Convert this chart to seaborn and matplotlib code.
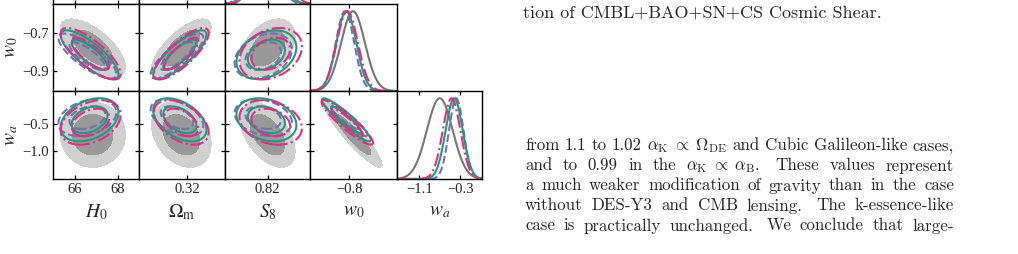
import numpy as np
import matplotlib
matplotlib.use("Agg")
import matplotlib.pyplot as plt
import seaborn as sns

# parameters in order: H0, Omega_m, S8, w0, wa
PARAM_LABELS = [r"$H_0$", r"$\Omega_{\rm m}$", r"$S_8$", r"$w_0$", r"$w_a$"]
RANGES = [(65.0, 69.0), (0.2865, 0.3465), (0.78, 0.86), (-1.005, -0.55), (-1.53, 0.12)]
XTICKS = [[66, 68], [0.32], [0.82], [-0.8], [-1.1, -0.3]]
XTICKLABELS = [["66", "68"], ["0.32"], ["0.82"], ["\u22120.8"], ["\u22121.1", "\u22120.3"]]
YTICKS = {3: [-0.7, -0.9], 4: [-0.5, -1.0]}
YTICKLABELS = {3: ["\u22120.7", "\u22120.9"], 4: ["\u22120.5", "\u22121.0"]}

# marginal means / widths
MEAN_GREY = [66.85, 0.316, 0.820, -0.780, -0.70]
SIG_GREY = [0.62, 0.0085, 0.0106, 0.062, 0.25]
MEAN_GREEN = [66.70, 0.315, 0.819, -0.815, -0.42]
SIG_GREEN = [0.55, 0.0076, 0.0115, 0.052, 0.165]
MEAN_PINK = [66.75, 0.316, 0.823, -0.810, -0.47]
SIG_PINK = [0.57, 0.0078, 0.0120, 0.055, 0.17]
MEAN_PURPLE = [66.60, 0.313, 0.816, -0.822, -0.38]
SIG_PURPLE = [0.55, 0.0075, 0.0110, 0.048, 0.14]

# 2D panels (x param, y param) and correlation per chain
PANELS = [(0, 3), (1, 3), (2, 3), (0, 4), (1, 4), (2, 4), (3, 4)]
RHO_GREY = [-0.65, 0.72, 0.40, 0.00, -0.30, -0.50, -0.92]
RHO_GREEN = [-0.80, 0.82, 0.30, 0.35, -0.45, -0.25, -0.93]
RHO_PINK = [-0.78, 0.80, 0.28, 0.35, -0.45, -0.25, -0.92]
RHO_PURPLE = [-0.80, 0.82, 0.30, 0.30, -0.45, -0.25, -0.93]

CAPTION_TAIL = "tion of CMBL+BAO+SN+CS Cosmic Shear."
BODY_LINES = [
    ["from", "1.1", "to", "1.02", r"$\alpha_{\rm K}\;\propto\;\Omega_{\rm DE}$", "and",
     "Cubic", "Galileon-like", "cases,"],
    ["and", "to", "0.99", "in", "the", r"$\alpha_{\rm K}\;\propto\;\alpha_{\rm B}$.",
     "These", "values", "represent"],
    ["a", "much", "weaker", "modification", "of", "gravity", "than", "in", "the", "case"],
    ["without", "DES-Y3", "and", "CMB", "lensing.", "The", "k-essence-like"],
    ["case", "is", "practically", "unchanged.", "We", "conclude", "that", "large-"],
]

sns.set_theme(style="white")
plt.rcParams["font.family"] = ["Liberation Serif", "DejaVu Serif"]
plt.rcParams["mathtext.fontset"] = "stix"
plt.rcParams["axes.unicode_minus"] = True

W, H = 1018, 254
fig = plt.figure(figsize=(W / 100, H / 100), dpi=100)
fig.patch.set_facecolor("white")

COL_EDGES = [53, 139, 225, 310, 397, 482]
ROW_EDGES = [-83, 4, 91, 179]
ROW_PARAMS = [2, 3, 4]

GREY_LIGHT, GREY_DARK, GREY_LINE = "#d0d0d0", "#999999", "#767676"
chains = [
    (MEAN_PURPLE, SIG_PURPLE, RHO_PURPLE, "#7570b3", "--"),
    (MEAN_GREEN, SIG_GREEN, RHO_GREEN, "#1b9e77", "-"),
    (MEAN_PINK, SIG_PINK, RHO_PINK, "#e7298a", "-."),
]
LEVELS = [np.exp(-5.99 / 2), np.exp(-2.30 / 2)]


def gauss2d(X, Y, mx, my, sx, sy, rho):
    dx, dy = (X - mx) / sx, (Y - my) / sy
    q = (dx ** 2 - 2 * rho * dx * dy + dy ** 2) / (1 - rho ** 2)
    return np.exp(-q / 2)


for r, p in enumerate(ROW_PARAMS):
    for c in range(p + 1):
        x0, x1 = COL_EDGES[c], COL_EDGES[c + 1]
        y0, y1 = ROW_EDGES[r], ROW_EDGES[r + 1]
        ax = fig.add_axes([x0 / W, 1 - y1 / H, (x1 - x0) / W, (y1 - y0) / H])
        ax.set_facecolor("white")
        ax.set_xlim(*RANGES[c])
        if c == p:
            # 1D marginal
            xs = np.linspace(*RANGES[c], 300)
            ys = np.exp(-0.5 * ((xs - MEAN_GREY[c]) / SIG_GREY[c]) ** 2)
            sns.lineplot(x=xs, y=ys, ax=ax, color=GREY_LINE, lw=1.5)
            for mean, sig, _, col, ls in chains:
                ys = np.exp(-0.5 * ((xs - mean[c]) / sig[c]) ** 2)
                sns.lineplot(x=xs, y=ys, ax=ax, color=col, lw=1.5, linestyle=ls)
            ax.set_ylim(0, 1.09)
            ax.set_yticks([])
        else:
            ax.set_ylim(*RANGES[p])
            if (c, p) in PANELS:
                k = PANELS.index((c, p))
                gx = np.linspace(*RANGES[c], 220)
                gy = np.linspace(*RANGES[p], 220)
                X, Y = np.meshgrid(gx, gy)
                Z = gauss2d(X, Y, MEAN_GREY[c], MEAN_GREY[p], SIG_GREY[c], SIG_GREY[p], RHO_GREY[k])
                ax.contourf(X, Y, Z, levels=[LEVELS[0], LEVELS[1], 1.1],
                            colors=[GREY_LIGHT, GREY_DARK])
                for mean, sig, rho, col, ls in chains:
                    Z = gauss2d(X, Y, mean[c], mean[p], sig[c], sig[p], rho[k])
                    ax.contour(X, Y, Z, levels=LEVELS, colors=col,
                               linestyles=ls, linewidths=1.5)
            ax.set_yticks(YTICKS.get(p, []))
            if c == 0 and p in YTICKLABELS:
                ax.set_yticklabels(YTICKLABELS[p])
        ax.set_xticks(XTICKS[c])
        if r == len(ROW_PARAMS) - 1:
            ax.set_xticklabels(XTICKLABELS[c])
        ax.set(xlabel=None, ylabel=None)
        ax.tick_params(direction="in", length=3, width=0.9, color="black",
                       top=True, bottom=True, left=(c != p), right=(c != p),
                       labelbottom=(r == len(ROW_PARAMS) - 1),
                       labelleft=(c == 0 and c != p), labelsize=10.5, pad=3)
        for s in ax.spines.values():
            s.set_color("black")
            s.set_linewidth(1.0)
        if r == len(ROW_PARAMS) - 1:
            fig.text((x0 + x1) / 2 / W, 1 - 212 / H, PARAM_LABELS[c],
                     ha="center", va="center", fontsize=14)
    if p in YTICKS:
        fig.text(11 / W, 1 - (ROW_EDGES[r] + ROW_EDGES[r + 1]) / 2 / H, PARAM_LABELS[p],
                 ha="center", va="center", rotation=90, fontsize=14)

# text column on the right
TXT = dict(family="cmr10", math_fontfamily="cm", va="baseline", ha="left")
fig.text(523 / W, 1 - 17.5 / H, CAPTION_TAIL, fontsize=13.0, **TXT)

renderer = fig.canvas.get_renderer()
LEFT, RIGHT = 525, 954
for i, words in enumerate(BODY_LINES):
    base = 150.5 + 20 * i
    texts = [fig.text(0, 1 - base / H, w, fontsize=12.2, **TXT) for w in words]
    widths = [t.get_window_extent(renderer=renderer).width for t in texts]
    weights = [1.5 if w.endswith(".") else 1.0 for w in words[:-1]]
    unit = (RIGHT - LEFT - sum(widths)) / sum(weights)
    x = LEFT
    for j, (t, wd) in enumerate(zip(texts, widths)):
        t.set_x(x / W)
        if j < len(weights):
            x += wd + unit * weights[j]

fig.savefig("out.png", dpi=100, facecolor="white")
